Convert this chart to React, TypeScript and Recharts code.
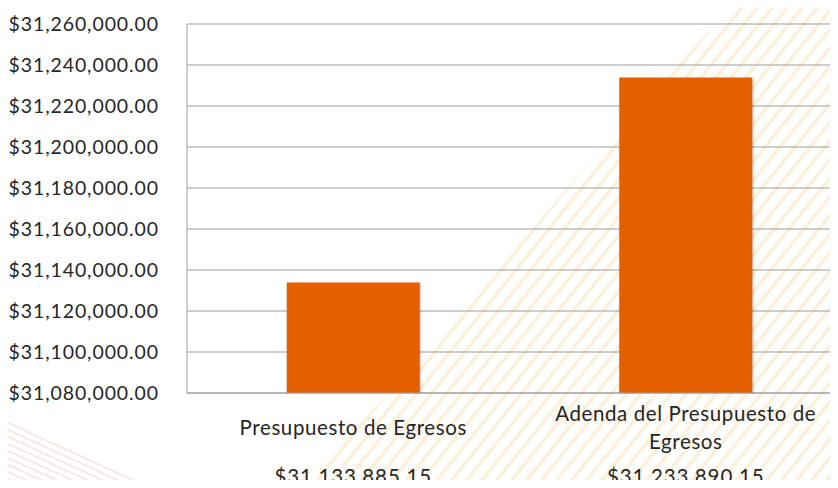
import React from "react";
import { Bar, BarChart, CartesianGrid, XAxis, YAxis } from "recharts";

const categories = ["Presupuesto de Egresos", "Adenda del Presupuesto de Egresos"];
const amounts = [31133885.15, 31233890.15];
const yTicks = [31080000, 31100000, 31120000, 31140000, 31160000, 31180000, 31200000, 31220000, 31240000, 31260000];

const BAR_COLOR = "#E35F00";
const TEXT_COLOR = "#262626";
const FONT = "Lato, 'Open Sans', sans-serif";

const chartData = categories.map((name, i) => ({ name, value: amounts[i] }));

const money = (v: number) =>
  "$" + v.toLocaleString("en-US", { minimumFractionDigits: 2, maximumFractionDigits: 2 });

function wrap(text: string, maxChars: number) {
  const lines: string[] = [];
  let cur = "";
  for (const w of text.split(" ")) {
    const next = cur ? cur + " " + w : w;
    if (next.length > maxChars && cur) {
      lines.push(cur);
      cur = w;
    } else cur = next;
  }
  if (cur) lines.push(cur);
  return lines;
}

function CategoryTick(props: any) {
  const { x, payload, index } = props;
  const lines = wrap(payload.value, 26);
  const mid = 427;
  const start = mid - ((lines.length - 1) * 28) / 2;
  return (
    <g>
      {lines.map((l, i) => (
        <text key={i} x={x} y={start + i * 28} textAnchor="middle" dominantBaseline="central"
          fill={TEXT_COLOR} fontSize={20.5} fontFamily={FONT} letterSpacing={0.6}>
          {l}
        </text>
      ))}
      <text x={x} y={476} textAnchor="middle" dominantBaseline="central"
        fill={TEXT_COLOR} fontSize={20.5} fontFamily={FONT} letterSpacing={0.9}>
        {money(amounts[index])}
      </text>
    </g>
  );
}

function Stripes() {
  const lines = [];
  for (let i = -40; i < 60; i++) {
    const o = i * 15;
    lines.push(<line key={i} x1={o} y1={650} x2={o + 620} y2={-120} stroke="#F5DDAA" strokeWidth={3.5} />);
  }
  const pink = [];
  for (let i = 0; i < 10; i++) {
    pink.push(<line key={i} x1={-20} y1={410 + i * 7} x2={220} y2={520 + i * 7} stroke="#F6CFC8" strokeWidth={1.5} />);
  }
  return (
    <svg width={838} height={488} style={{ position: "absolute", left: 0, top: 0 }}>
      <defs>
        <clipPath id="bgclip">
          <path d="M 290 488 C 420 380 560 180 740 0 L 838 0 L 838 488 Z" />
        </clipPath>
      </defs>
      <g clipPath="url(#bgclip)" opacity={0.45}>{lines}</g>
      <g opacity={0.6}>{pink}</g>
    </svg>
  );
}

export default function App() {
  return (
    <div style={{ position: "relative", margin: -8, width: 838, height: 488, overflow: "hidden", background: "#fff" }}>
      <Stripes />
      <div style={{ position: "absolute", left: 0, top: 0 }}>
        <BarChart width={852} height={488} data={chartData} barCategoryGap="30%"
          margin={{ top: 24, right: 0, bottom: 0, left: 0 }}>
          <CartesianGrid vertical={false} stroke="#9E9E9E" strokeWidth={1.2} />
          <XAxis dataKey="name" height={95} tickLine={false} axisLine={{ stroke: "#9E9E9E" }}
            interval={0} tick={<CategoryTick />} />
          <YAxis width={187} domain={[31080000, 31260000]} ticks={yTicks} tickLine={false}
            axisLine={{ stroke: "#9E9E9E" }} tickMargin={22} tickFormatter={money} allowDataOverflow
            tick={{ fill: TEXT_COLOR, fontSize: 19.5, fontFamily: FONT, letterSpacing: 0.9 }} />
          <Bar dataKey="value" fill={BAR_COLOR} isAnimationActive={false}
            style={{ filter: "drop-shadow(1px 1px 1px rgba(0,0,0,0.25))" }} />
        </BarChart>
      </div>
    </div>
  );
}
